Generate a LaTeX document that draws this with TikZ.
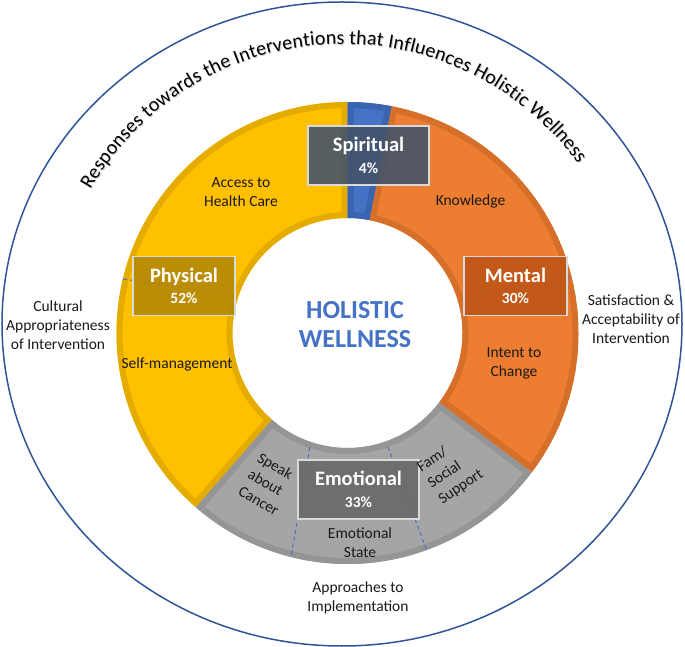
\documentclass[tikz,border=0pt]{standalone}
\usepackage{fontspec}
\setmainfont{Carlito}
\usetikzlibrary{decorations.text}

\definecolor{physfill}{HTML}{FFC000}
\definecolor{physedge}{HTML}{E4AB00}
\definecolor{mentfill}{HTML}{ED7D31}
\definecolor{mentedge}{HTML}{D56F2A}
\definecolor{emofill}{HTML}{A5A5A5}
\definecolor{emoedge}{HTML}{959595}
\definecolor{spirfill}{HTML}{4472C4}
\definecolor{spiredge}{HTML}{3A64B0}
\definecolor{physbox}{RGB}{180,136,6}
\definecolor{mentbox}{RGB}{190,86,22}
\definecolor{emobox}{RGB}{105,105,105}
\definecolor{spirbox}{HTML}{44546A}
\definecolor{boxline}{HTML}{D9D9D9}
\definecolor{outerline}{HTML}{2F5597}

\begin{document}
\begin{tikzpicture}[x=1pt,y=1pt,
	lbl/.style={font=\fontsize{15.5}{19}\selectfont,text=black!90,align=center,inner sep=0pt},
	dimbox/.style={draw=boxline,line width=1.2pt,fill opacity=0.9,text opacity=1,text=white,align=center,
		minimum height=59pt,inner sep=0pt,font=\bfseries\fontsize{20.5}{21.5}\selectfont},
	divider/.style={draw=spirfill,line width=1pt,dash pattern=on 4pt off 3pt}]

\useasboundingbox (-347.5,-314) rectangle (337.5,333);

% outer ring and title
\draw[outerline,line width=1.5pt] (-5.5,9) ellipse[x radius=340,y radius=322];
\path[decorate,decoration={text along path,text align={fit to path},text color=black!20,
	text={|\fontsize{20}{24}\selectfont|Responses towards the Interventions that Influences Holistic Wellness}}]
	(-4,-3) ++(150:291) arc[start angle=150,end angle=36,radius=291];
\path[decorate,decoration={text along path,text align={fit to path},text color=black,
	text={|\fontsize{20}{24}\selectfont|Responses towards the Interventions that Influences Holistic Wellness}}]
	(-5,-2) ++(150:291) arc[start angle=150,end angle=36,radius=291];

% donut segments
\foreach \from/\to/\fc/\ec in {90/229/physfill/physedge,229/323/emofill/emoedge,-37/79/mentfill/mentedge,79/90/spirfill/spiredge}{
	\begin{scope}
		\clip (\from:231) arc[start angle=\from,end angle=\to,radius=231] -- (\to:115) arc[start angle=\to,end angle=\from,radius=115] -- cycle;
		\filldraw[fill=\fc,draw=\ec,line width=12pt] (\from:231) arc[start angle=\from,end angle=\to,radius=231]
			-- (\to:115) arc[start angle=\to,end angle=\from,radius=115] -- cycle;
	\end{scope}
}

% dashed dividers
\draw[divider] (-224.5,54) -- (-112.5,38);
\draw[divider] (115.5,35) -- (222.5,56);
\draw[divider] (-37.5,-114) -- (-56.5,-224);
\draw[divider] (40.5,-114) -- (79.5,-218);

% boxes
\node[dimbox,fill=spirbox,minimum width=121pt]	(spiritual) at (21,177.5)	{Spiritual\\{\fontsize{15.5}{21.5}\selectfont 4\%}};
\node[dimbox,fill=physbox,minimum width=102pt]	(physical) at (-163.5,47)	{Physical\\{\fontsize{15.5}{21.5}\selectfont 52\%}};
\node[dimbox,fill=mentbox,minimum width=103pt]	(mental) at (168,47)		{Mental\\{\fontsize{15.5}{21.5}\selectfont 30\%}};
\node[dimbox,fill=emobox,minimum width=121pt]	(emotional) at (11,-156.5)	{Emotional\\{\fontsize{15.5}{21.5}\selectfont 33\%}};

% centre
\node[font=\bfseries\fontsize{26}{29}\selectfont,text=spirfill,align=center] (holistic) at (7.5,8.5) {HOLISTIC\\WELLNESS};

% labels
\node[lbl]	(access) at (-106.5,141)		{Access to\\Health Care};
\node[lbl]	(knowledge) at (123,132)		{Knowledge};
\node[lbl]	(selfmgmt) at (-170.5,-31)		{Self-management};
\node[lbl]	(intent) at (166.5,-30.5)		{Intent to\\Change};
\node[lbl,align=left,rotate=-30]	(speak) at (-79,-151)	{Speak\\about\\Cancer};
\node[lbl,align=left,rotate=34]	(famsupport) at (103,-138)	{Fam/\\Social\\Support};
\node[lbl]	(emostate) at (12.5,-209.5)		{Emotional\\State};
\node[lbl]	(approaches) at (10.5,-264.5)	{Approaches to\\Implementation};
\node[lbl]	(cultural) at (-289.5,8)		{Cultural\\Appropriateness\\of Intervention};
\node[lbl]	(satisfaction) at (283.5,14)	{Satisfaction \&\\Acceptability of\\Intervention};

\end{tikzpicture}
\end{document}
